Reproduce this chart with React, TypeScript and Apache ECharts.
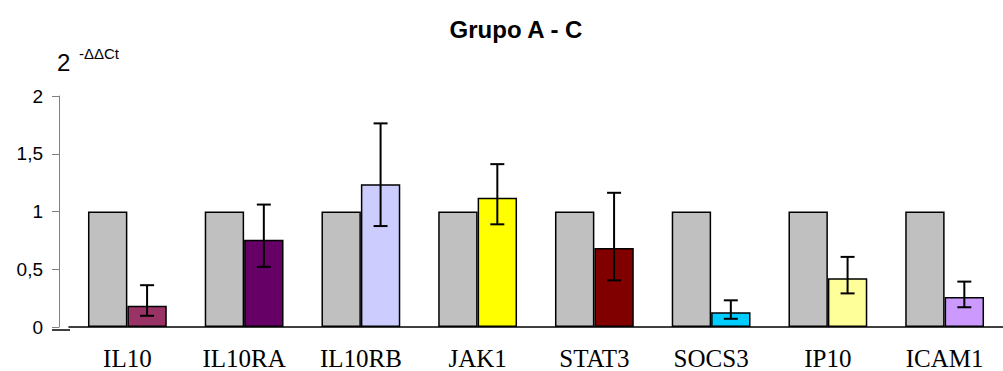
import React, { useEffect, useRef } from "react";
import * as echarts from "echarts";

const categories = ["IL10", "IL10RA", "IL10RB", "JAK1", "STAT3", "SOCS3", "IP10", "ICAM1"];
const controlValues = [1, 1, 1, 1, 1, 1, 1, 1];
const groupValues = [0.185, 0.755, 1.237, 1.12, 0.684, 0.128, 0.421, 0.259];
const errLow = [0.097, 0.521, 0.874, 0.889, 0.404, 0.071, 0.291, 0.171];
const errHigh = [0.362, 1.06, 1.763, 1.41, 1.162, 0.231, 0.607, 0.393];
const barColors = ["#993366", "#660066", "#CCCCFF", "#FFFF00", "#800000", "#00CCFF", "#FFFF99", "#CC99FF"];
const controlColor = "#C0C0C0";
const titleText = "Grupo A - C";

const CAT_GAP = 0.325;

export default function App() {
  const ref = useRef<HTMLDivElement>(null);
  useEffect(() => {
    if (!ref.current) return;
    const chart = echarts.init(ref.current, null, { renderer: "svg" });
    const errData = categories.map((_, i) => [i, errLow[i], errHigh[i]]);
    chart.setOption({
      animation: false,
      backgroundColor: "#ffffff",
      title: {
        text: titleText,
        left: 511,
        top: 12,
        textAlign: "center",
        textStyle: { fontFamily: "Liberation Sans", fontWeight: "bold", fontSize: 24, color: "#000" },
      },
      grid: { left: 69, top: 96, width: 936, height: 234 },
      xAxis: {
        type: "category",
        data: categories,
        axisLine: { lineStyle: { color: "#000", width: 1.5 } },
        axisTick: { show: false },
        axisLabel: { fontFamily: "Liberation Serif", fontSize: 25, color: "#000", margin: 19 },
      },
      yAxis: {
        type: "value",
        min: 0,
        max: 2,
        interval: 0.5,
        offset: 10,
        splitLine: { show: false },
        axisLine: { show: true, lineStyle: { color: "#808080", width: 1 } },
        axisTick: { show: true, length: 7, lineStyle: { color: "#808080" } },
        axisLabel: {
          fontFamily: "Liberation Sans",
          fontSize: 19,
          color: "#000",
          margin: 16,
          formatter: (v: number) => String(v).replace(".", ","),
        },
      },
      graphic: [
        { type: "line", shape: { x1: 52, y1: 330, x2: 70, y2: 330 }, style: { stroke: "#000", lineWidth: 1.5 } },
        {
          type: "text",
          x: 57,
          y: 62,
          style: { text: "2", fontFamily: "Liberation Sans", fontSize: 24, fill: "#000", verticalAlign: "middle" },
        },
        {
          type: "text",
          x: 79,
          y: 53,
          style: { text: "-ΔΔCt", fontFamily: "Liberation Sans", fontSize: 15, fill: "#000", verticalAlign: "middle" },
        },
      ],
      series: [
        {
          type: "bar",
          data: controlValues,
          barGap: "0%",
          barCategoryGap: CAT_GAP * 100 + "%",
          itemStyle: { color: controlColor, borderColor: "#000", borderWidth: 1.5 },
        },
        {
          type: "bar",
          data: groupValues.map((v, i) => ({ value: v, itemStyle: { color: barColors[i] } })),
          barGap: "0%",
          barCategoryGap: CAT_GAP * 100 + "%",
          itemStyle: { borderColor: "#000", borderWidth: 1.5 },
        },
        {
          type: "custom",
          data: errData,
          encode: { x: 0, y: [1, 2] },
          z: 10,
          renderItem: (params: any, api: any) => {
            const idx = api.value(0);
            const band = api.size([1, 0])[0];
            const cx = api.coord([idx, 0])[0] + (band * (1 - CAT_GAP)) / 4;
            const yl = api.coord([idx, api.value(1)])[1];
            const yh = api.coord([idx, api.value(2)])[1];
            const hw = 7;
            const st = { stroke: "#000", lineWidth: 2 };
            return {
              type: "group",
              children: [
                { type: "line", shape: { x1: cx, y1: yl, x2: cx, y2: yh }, style: st },
                { type: "line", shape: { x1: cx - hw, y1: yh, x2: cx + hw, y2: yh }, style: st },
                { type: "line", shape: { x1: cx - hw, y1: yl, x2: cx + hw, y2: yl }, style: st },
              ],
            };
          },
        },
      ],
    });
    return () => chart.dispose();
  }, []);
  return (
    <div
      ref={ref}
      style={{ position: "fixed", left: 0, top: 0, width: 1003, height: 371, background: "#fff" }}
    />
  );
}
